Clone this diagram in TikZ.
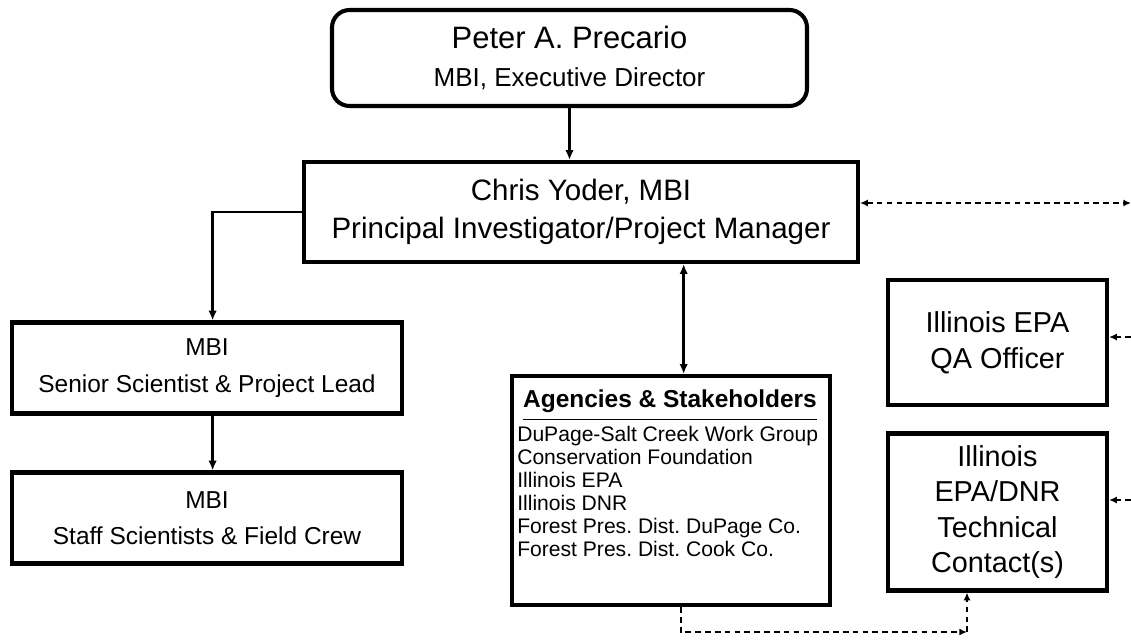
\documentclass[tikz,border=0pt]{standalone}
\usepackage{fontspec}
\setmainfont{Liberation Sans}
\usetikzlibrary{arrows.meta,positioning}
\frenchspacing
\newcommand{\pxu}{0.025cm}
\newcommand{\fs}[2]{\fontsize{#1}{#2}\selectfont}
\tikzset{
  nd_box/.style={rectangle,draw=black,line width=2.9pt,fill=white,align=center,inner sep=0pt},
  nd_top/.style={nd_box,rounded corners=12.5pt},
  nd_txt/.style={inner sep=0pt},
  arr/.style={-{Latex[length=7pt,width=6pt]},line width=1.7pt},
  darr/.style={{Latex[length=7pt,width=6pt]}-{Latex[length=7pt,width=6pt]},line width=1.7pt},
  dsh/.style={-{Latex[length=5.5pt,width=5pt]},line width=1.1pt,dash pattern=on 4pt off 3pt},
  ddsh/.style={dsh,{Latex[length=5.5pt,width=5pt]}-{Latex[length=5.5pt,width=5pt]}},
}

\begin{document}
\begin{tikzpicture}[x=\pxu,y=-\pxu]
\useasboundingbox (0,0) rectangle (1131,639);
% top
\node[nd_top,minimum width=475*\pxu,minimum height=96*\pxu,font=\fs{18.5}{27.5}] at (569.5,58)(PD){{\fs{22}{27.5}Peter A. Precario}\\MBI, Executive Director};
\node[nd_box,minimum width=554*\pxu,minimum height=100*\pxu,font=\fs{21}{27}] at (581,212)(PI){Chris Yoder, MBI\\Principal Investigator/Project Manager};
% MBI side
\node[nd_box,minimum width=390*\pxu,minimum height=91*\pxu,font=\fs{17.4}{26}] at (207,368)(SL){MBI\\Senior Scientist \& Project Lead};
\node[nd_box,minimum width=390*\pxu,minimum height=91*\pxu,font=\fs{17.4}{26}] at (207,518)(SS){MBI\\Staff Scientists \& Field Crew};
% agencies
\node[nd_box,minimum width=318*\pxu,minimum height=229*\pxu] at (671,490.5)(AG){};
\node[nd_txt,font=\bfseries\fs{17.4}{20}] at (670,401)(AGh){Agencies \& Stakeholders};
\draw[line width=1pt]([yshift=-5pt]AGh.south west)--([yshift=-5pt]AGh.south east);
\node[nd_txt,font=\fs{15}{16.3},align=left,anchor=north west] at (517,426)(AGl){DuPage-Salt Creek Work Group\\Conservation Foundation\\Illinois EPA\\Illinois DNR\\Forest Pres. Dist. DuPage Co.\\Forest Pres. Dist. Cook Co.};
% Illinois
\node[nd_box,minimum width=219*\pxu,minimum height=125*\pxu,font=\fs{20.5}{25.5}] at (997.5,342.5)(QA){Illinois EPA\\QA Officer};
\node[nd_box,minimum width=219*\pxu,minimum height=157*\pxu,font=\fs{20.5}{25}] at (997.5,512)(TC){Illinois\\EPA/DNR\\Technical\\Contact(s)};
% arrows
\coordinate (sl_t) at ([xshift=4pt]SL.north);
\coordinate (ss_t) at ([xshift=4pt]SS.north);
\coordinate (ag_t) at ([xshift=9pt]AG.north);
\coordinate (ag_b) at ([xshift=7pt]AG.south);
\draw[arr](PD.south)--(PD.south |- PI.north);
\draw[arr](PI.west)-|(sl_t);
\draw[arr](sl_t |- SL.south)--(ss_t);
\draw[darr](ag_t |- PI.south)--(ag_t);
% dashed links
\coordinate (rEdge) at (1131,203);
\coordinate (qEdge) at (1131,337);
\coordinate (tEdge) at (1131,500);
\coordinate (bC) at (967,632);
\draw[ddsh](PI.east |- rEdge)--(rEdge);
\draw[dsh](qEdge)--(QA.east |- qEdge);
\draw[dsh](tEdge)--(TC.east |- tEdge);
\draw[dsh](ag_b)|-(bC);
\draw[dsh](bC)--(bC |- TC.south);
\end{tikzpicture}
\end{document}
